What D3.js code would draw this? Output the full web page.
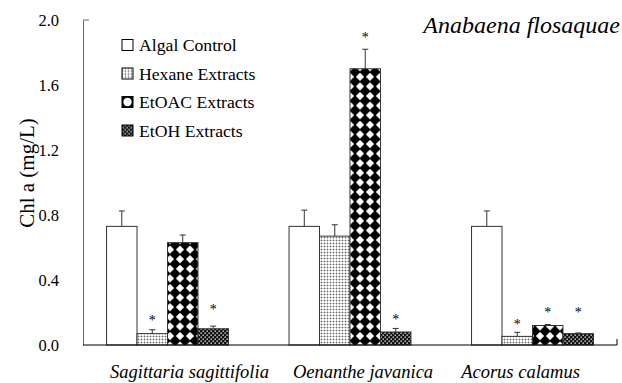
<!DOCTYPE html>
<html>
<head>
<meta charset="utf-8">
<script src="https://cdn.jsdelivr.net/npm/d3@7"></script>
<style>
  body { margin: 0; background: #fff; }
  svg text { font-family: "Liberation Serif", "Times New Roman", serif !important; }
</style>
</head>
<body>
<div class="chart"></div>
<script>
// Data
const plants = ["Sagittaria sagittifolia", "Oenanthe javanica", "Acorus calamus"];
const treatments = ["Algal Control", "Hexane Extracts", "EtOAC Extracts", "EtOH Extracts"];
const control = [0.73, 0.73, 0.73];
const hexane  = [0.07, 0.67, 0.053];
const etoac   = [0.63, 1.70, 0.12];
const etoh    = [0.10, 0.08, 0.07];
const errControl = [0.095, 0.10, 0.095];
const errHexane  = [0.024, 0.07, 0.025];
const errEtoac   = [0.047, 0.12, 0.006];
const errEtoh    = [0.016, 0.022, 0.004];
// star = significant, value = where the star sits
const starControl = [null, null, null];
const starHexane  = [0.16, null, 0.135];
const starEtoac   = [null, 1.90, 0.21];
const starEtoh    = [0.23, 0.165, 0.21];
const yTicks = [0, 0.4, 0.8, 1.2, 1.6, 2.0];

const values = [control, hexane, etoac, etoh];
const errors = [errControl, errHexane, errEtoac, errEtoh];
const stars = [starControl, starHexane, starEtoac, starEtoh];

const width = 622, height = 383;
const margin = { left: 83, right: 617, top: 20, bottom: 345 };
const serif = "'Liberation Serif', 'Times New Roman', serif";

const svg = d3.select(".chart").append("svg")
    .attr("width", width)
    .attr("height", height)
    .attr("font-family", serif);

// patterns
const defs = svg.append("defs");
// hexane: fine stipple
const pHex = defs.append("pattern").attr("id", "pHex")
    .attr("patternUnits", "userSpaceOnUse").attr("width", 3).attr("height", 3);
pHex.append("rect").attr("width", 3).attr("height", 3).attr("fill", "#fff");
pHex.append("rect").attr("width", 3).attr("height", 1).attr("fill", "#ccc");
pHex.append("rect").attr("width", 1).attr("height", 3).attr("fill", "#ccc");
pHex.append("rect").attr("width", 1).attr("height", 1).attr("fill", "#666");
// etoac: black diamonds
const pOac = defs.append("pattern").attr("id", "pOac")
    .attr("patternUnits", "userSpaceOnUse").attr("width", 10).attr("height", 9.6);
pOac.append("rect").attr("width", 10).attr("height", 9.6).attr("fill", "#fff");
pOac.append("path").attr("d", "M5,-0.8 L10.8,4.8 L5,10.4 L-0.8,4.8 Z").attr("fill", "#000");
// etoh: dark with white dots
const pOh = defs.append("pattern").attr("id", "pOh")
    .attr("patternUnits", "userSpaceOnUse").attr("width", 4).attr("height", 4);
pOh.append("rect").attr("width", 4).attr("height", 4).attr("fill", "#111");
pOh.append("rect").attr("x", 0.5).attr("y", 0.5).attr("width", 1.3).attr("height", 1.3).attr("fill", "#fff");
pOh.append("rect").attr("x", 2.5).attr("y", 2.5).attr("width", 1.3).attr("height", 1.3).attr("fill", "#fff");

const fills = ["#fff", "url(#pHex)", "url(#pOac)", "url(#pOh)"];

// scales
const x0 = d3.scaleBand()
    .domain(plants)
    .range([margin.left, margin.right])
    .paddingInner(0.332)
    .paddingOuter(0.129);
const x1 = d3.scaleBand()
    .domain(treatments)
    .range([0, x0.bandwidth()]);
const y = d3.scaleLinear()
    .domain([0, 2])
    .range([margin.bottom, margin.top]);

// y axis
const yAxis = svg.append("g")
    .attr("transform", `translate(${margin.left},0)`)
    .call(d3.axisLeft(y).tickValues(yTicks).tickFormat(d3.format(".1f")).tickSize(0).tickPadding(24));
yAxis.attr("font-family", serif);
yAxis.select(".domain").attr("stroke", "#666");
yAxis.selectAll("text").attr("font-size", 16.5).attr("fill", "#000");
svg.append("line").attr("x1", margin.left).attr("x2", margin.left + 6)
    .attr("y1", y(2)).attr("y2", y(2)).attr("stroke", "#666");

// bars
const g = svg.append("g");
plants.forEach((p, i) => {
    treatments.forEach((t, j) => {
        const bx = x0(p) + x1(t);
        const v = values[j][i];
        const e = errors[j][i];
        const cx = bx + x1.bandwidth() / 2;
        g.append("rect")
            .attr("x", bx)
            .attr("y", y(v))
            .attr("width", x1.bandwidth())
            .attr("height", y(0) - y(v))
            .attr("fill", fills[j])
            .attr("stroke", "#333")
            .attr("stroke-width", 1);
        g.append("line")
            .attr("x1", cx).attr("x2", cx)
            .attr("y1", y(v)).attr("y2", y(v + e))
            .attr("stroke", "#333");
        g.append("line")
            .attr("x1", cx - 3).attr("x2", cx + 3)
            .attr("y1", y(v + e)).attr("y2", y(v + e))
            .attr("stroke", "#333");
        if (stars[j][i] != null) {
            g.append("text")
                .attr("x", cx)
                .attr("y", y(stars[j][i]) + 6)
                .attr("text-anchor", "middle")
                .attr("font-size", 14)
                .attr("fill", "#000")
                .text("*");
        }
    });
});

// x axis
svg.append("line")
    .attr("x1", margin.left).attr("x2", margin.right)
    .attr("y1", margin.bottom).attr("y2", margin.bottom)
    .attr("stroke", "#000").attr("stroke-width", 1.2);
svg.append("line")
    .attr("x1", margin.right).attr("x2", margin.right)
    .attr("y1", margin.bottom).attr("y2", margin.bottom - 6)
    .attr("stroke", "#000");

const labelShift = [22, 13, -12];
svg.selectAll(".cat")
    .data(plants)
    .enter()
    .append("text")
    .attr("class", "cat")
    .attr("x", (d, i) => x0(d) + x0.bandwidth() / 2 + labelShift[i])
    .attr("y", 378)
    .attr("text-anchor", "middle")
    .attr("font-size", 18.5)
    .attr("font-style", "italic")
    .text(d => d);

// y label
svg.append("text")
    .attr("transform", "translate(34,173) rotate(-90)")
    .attr("text-anchor", "middle")
    .attr("font-size", 21)
    .text("Chl a (mg/L)");

// title
svg.append("text")
    .attr("x", 620)
    .attr("y", 33)
    .attr("text-anchor", "end")
    .attr("font-size", 24)
    .attr("font-style", "italic")
    .text("Anabaena flosaquae");

// legend
const legend = svg.append("g").attr("transform", "translate(122,45)");
treatments.forEach((t, j) => {
    const row = legend.append("g").attr("transform", `translate(0,${j * 28.5})`);
    row.append("rect")
        .attr("x", 0).attr("y", -5.5)
        .attr("width", 11).attr("height", 11)
        .attr("fill", j === 2 ? "#000" : fills[j])
        .attr("stroke", "#000");
    if (j === 2) {
        row.append("circle").attr("cx", 5.5).attr("cy", 0).attr("r", 4.2).attr("fill", "#fff");
    }
    row.append("text")
        .attr("x", 17)
        .attr("y", 6)
        .attr("font-size", 17.7)
        .text(t);
});
</script>
</body>
</html>
